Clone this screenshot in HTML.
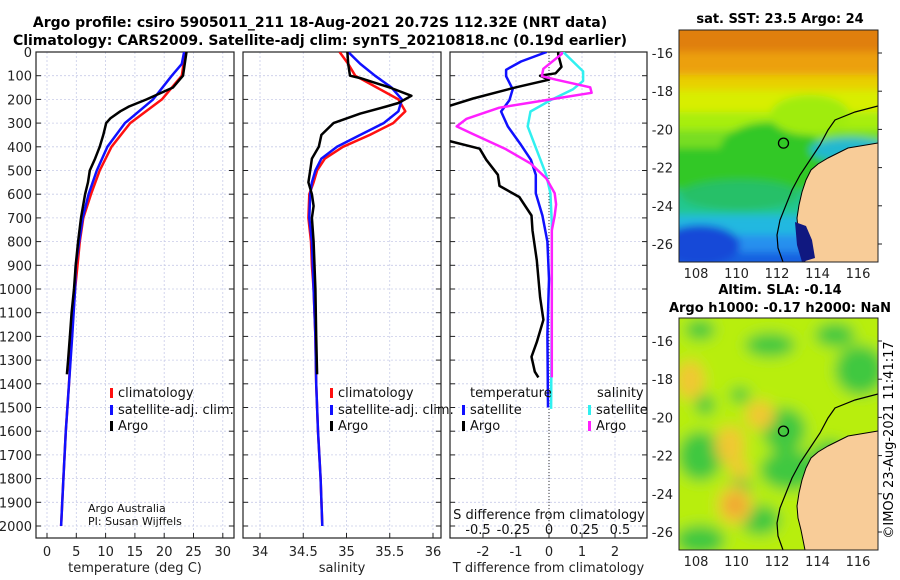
<!DOCTYPE html>
<html><head><meta charset="utf-8"><style>
html,body{margin:0;padding:0;background:#fff;}
svg{display:block;font-family:"DejaVu Sans","Liberation Sans",sans-serif;}
</style></head><body>
<svg id="fig" width="900" height="580" viewBox="0 0 900 580" xmlns="http://www.w3.org/2000/svg">
<text x="320" y="27" font-size="14" font-weight="bold" text-anchor="middle">Argo profile: csiro 5905011_211 18-Aug-2021 20.72S 112.32E (NRT data)</text>
<text x="320" y="45" font-size="14" font-weight="bold" text-anchor="middle">Climatology: CARS2009. Satellite-adj clim: synTS_20210818.nc (0.19d earlier)</text>
<g id="panels"></g>
<g id="maps"></g>
<text transform="translate(893,440) rotate(-90)" font-size="13" text-anchor="middle">©IMOS 23-Aug-2021 11:41:17</text>
</svg>
<script>
// ---------- data ----------
const depthTicks=[0,100,200,300,400,500,600,700,800,900,1000,1100,1200,1300,1400,1500,1600,1700,1800,1900,2000];
const tTicks=[0,5,10,15,20,25,30];
const sTicks=[34,34.5,35,35.5,36];
const dtTicks=[-2,-1,0,1,2];
const dsTickLabels=['-0.5','-0.25','0','0.25','0.5'];
const dsTickValues=[-0.5,-0.25,0,0.25,0.5];

const tClimDepth=[0,100,200,300,400,500,600,700,800,900,1000,1200,1400,1600,1800,2000];
const tClim=[23.6,23.0,19.6,14.2,11.0,9.0,7.5,6.2,5.6,5.2,4.8,4.2,3.75,3.2,2.8,2.4];
const tSatDepth=[0,50,100,200,300,400,500,600,700,800,900,1000,1200,1400,1600,1800,2000];
const tSat=[23.4,23.0,21.3,18.1,13.3,10.3,8.5,7.1,6.1,5.5,4.9,4.8,4.3,3.75,3.2,2.8,2.4];
const tArgoDepth=[0,100,150,200,230,250,280,300,350,400,450,500,550,600,700,800,900,1000,1100,1200,1300,1360];
const tArgo=[23.8,23.2,21.5,17.0,14.0,12.5,10.8,10.1,9.6,9.0,8.2,7.3,7.0,6.5,5.8,5.3,4.9,4.6,4.2,3.9,3.6,3.4];

const sClimDepth=[0,50,100,150,200,250,300,350,400,450,500,550,600,700,800,900,1000,1200,1400,1600,1800,2000];
const sClim=[34.92,35.02,35.10,35.35,35.60,35.68,35.54,35.27,34.96,34.75,34.66,34.62,34.57,34.56,34.59,34.60,34.62,34.64,34.65,34.67,34.70,34.72];
const sSatDepth=[0,50,100,150,200,250,300,350,400,450,500,550,600,700,800,1000,1200,1400,1600,1800,2000];
const sSat=[35.02,35.16,35.33,35.52,35.64,35.60,35.43,35.16,34.89,34.71,34.64,34.60,34.58,34.57,34.60,34.62,34.64,34.65,34.67,34.70,34.72];
const sArgoDepth=[0,50,100,110,150,185,215,230,260,300,350,400,450,500,550,600,650,700,800,1000,1200,1360];
const sArgo=[35.01,35.02,35.04,35.16,35.50,35.75,35.60,35.46,35.16,34.85,34.71,34.68,34.60,34.58,34.56,34.60,34.62,34.60,34.62,34.64,34.65,34.66];

const dtSatDepth=[0,40,75,102,157,204,251,314,392,455,518,596,690,800,957,1192,1500];
const dtSat=[-0.07,-0.85,-1.3,-1.3,-1.1,-1.2,-1.45,-1.25,-0.85,-0.55,-0.4,-0.4,-0.2,-0.05,0,-0.05,-0.03];
const dtArgoDepth=[0,10,63,90,100,117,149,196,235,300,369,408,455,518,565,612,690,753,879,1035,1130,1224,1286,1349,1373];
const dtArgo=[0.28,0.28,0.38,0.2,-0.27,0,-1.0,-2.3,-3.2,-3.2,-3.2,-2.1,-1.9,-1.55,-1.5,-0.9,-0.53,-0.5,-0.37,-0.27,-0.17,-0.37,-0.53,-0.43,-0.32];
const dsSatDepth=[0,82,122,157,204,251,314,408,518,596,722,1035,1506];
const dsSat=[0.10,0.24,0.24,0.17,0.01,-0.13,-0.15,-0.09,-0.02,0.01,0.02,0.02,0.015];
const dsArgoDepth=[0,8,71,102,117,149,172,196,235,282,314,345,408,470,533,596,643,690,753,1035,1373];
const dsArgo=[0.09,0.09,-0.04,-0.05,0.05,0.29,0.30,0.05,-0.35,-0.58,-0.65,-0.54,-0.31,-0.13,-0.02,0.04,0.05,0.04,0.02,0.02,0.02];

// ---------- helpers ----------
const NS='http://www.w3.org/2000/svg';
function mk(tag,attrs,parent){const e=document.createElementNS(NS,tag);for(const k in attrs)e.setAttribute(k,attrs[k]);parent.appendChild(e);return e;}
const Y0=52,YB=538;
const yScale=d=>Y0+d*0.237;
const tX=v=>47+5.86*v;
const sX=v=>260+86.5*(v-34);
const dtX=v=>549+33*v;
const dsX=v=>549+142*v;
const panelsG=document.getElementById('panels');

function panel(name,x0,x1,xTicks,xfn,labels,xlabel,showY){
  const g=mk('g',{},panelsG);
  
  
  const cid='clip-'+name;
  const cp=mk('clipPath',{id:cid},g);mk('rect',{x:x0,y:Y0,width:x1-x0,height:YB-Y0},cp);
  depthTicks.forEach(d=>{const l=mk('line',{x1:x0,x2:x1,y1:yScale(d),y2:yScale(d),stroke:'#c8cce8','stroke-width':0.8,'stroke-dasharray':'2,2'},g);
    
    mk('line',{x1:x0,x2:x0+5,y1:yScale(d),y2:yScale(d),stroke:'#222'},g);
    mk('line',{x1:x1-5,x2:x1,y1:yScale(d),y2:yScale(d),stroke:'#222'},g);
    if(showY){const t=mk('text',{x:x0-4,y:yScale(d)+5,'font-size':13,'text-anchor':'end',fill:'#222'},g);t.textContent=d;
      }
  });
  xTicks.forEach((v,i)=>{const x=xfn(v);
    const l=mk('line',{x1:x,x2:x,y1:Y0,y2:YB,stroke:'#c8cce8','stroke-width':0.8,'stroke-dasharray':'2,2'},g);
    
    mk('line',{x1:x,x2:x,y1:YB-5,y2:YB,stroke:'#222'},g);
    if(labels){const t=mk('text',{x:x,y:556,'font-size':13,'text-anchor':'middle',fill:'#222'},g);t.textContent=labels[i];
      }
  });
  const xl=mk('text',{x:(x0+x1)/2,y:572,'font-size':13,'text-anchor':'middle',fill:'#222'},g);xl.textContent=xlabel;
  
  const box=mk('rect',{x:x0,y:Y0,width:x1-x0,height:YB-Y0,fill:'none',stroke:'#222','stroke-width':1.2},g);
  
  return {g,cid};
}
function line(p,name,depths,vals,xfn,color,w){
  const pts=depths.map((d,i)=>xfn(vals[i]).toFixed(1)+','+yScale(d).toFixed(1)).join(' ');
  const e=mk('polyline',{points:pts,fill:'none',stroke:color,'stroke-width':w,'stroke-linejoin':'round','clip-path':'url(#'+p.cid+')'},p.g);
  
}
function legend(p,x,y,color,label){
  const m=mk('rect',{x:x,y:y-9,width:3,height:10,fill:color},p.g);
  
  const t=mk('text',{x:x+8,y:y,'font-size':13,fill:'#111'},p.g);t.textContent=label;
  
}

// Panel 1 temperature
const p1=panel('temperature-panel',36,234,tTicks,tX,tTicks.map(String),'temperature (deg C)',true);
line(p1,'temperature-climatology-line',tClimDepth,tClim,tX,'#ff1010',2.5);
line(p1,'temperature-satellite-line',tSatDepth,tSat,tX,'#1010ff',2.5);
line(p1,'temperature-argo-line',tArgoDepth,tArgo,tX,'#000',2.5);
legend(p1,110,397,'#ff1010','climatology');
legend(p1,110,414,'#1010ff','satellite-adj. clim.');
legend(p1,110,430,'#000','Argo');
[['Argo Australia',512],['PI: Susan Wijffels',525]].forEach(a=>{const t=mk('text',{x:88,y:a[1],'font-size':11,fill:'#111'},p1.g);t.textContent=a[0];
  });

// Panel 2 salinity
const p2=panel('salinity-panel',243,441,sTicks,sX,sTicks.map(String),'salinity',false);
line(p2,'salinity-climatology-line',sClimDepth,sClim,sX,'#ff1010',2.5);
line(p2,'salinity-satellite-line',sSatDepth,sSat,sX,'#1010ff',2.5);
line(p2,'salinity-argo-line',sArgoDepth,sArgo,sX,'#000',2.5);
legend(p2,330,397,'#ff1010','climatology');
legend(p2,330,414,'#1010ff','satellite-adj. clim.');
legend(p2,330,430,'#000','Argo');

// Panel 3 differences
const p3=panel('difference-panel',450,647,dtTicks,dtX,dtTicks.map(String),'T difference from climatology',false);
const zl=mk('line',{x1:dtX(0),x2:dtX(0),y1:Y0,y2:YB,stroke:'#333','stroke-width':1,'stroke-dasharray':'1,2'},p3.g);

line(p3,'t-diff-satellite-line',dtSatDepth,dtSat,dtX,'#1010ff',2.5);
line(p3,'t-diff-argo-line',dtArgoDepth,dtArgo,dtX,'#000',2.5);
line(p3,'s-diff-satellite-line',dsSatDepth,dsSat,dsX,'#30f0f0',2.5);
line(p3,'s-diff-argo-line',dsArgoDepth,dsArgo,dsX,'#ff20ff',2.5);
[['temperature',470,397],['salinity',597,397]].forEach(a=>{const t=mk('text',{x:a[1],y:a[2],'font-size':13,fill:'#111'},p3.g);t.textContent=a[0];
  });
legend(p3,462,414,'#1010ff','satellite');
legend(p3,462,430,'#000','Argo');
legend(p3,588,414,'#30f0f0','satellite');
legend(p3,588,430,'#ff20ff','Argo');
const st=mk('text',{x:549,y:519,'font-size':13,'text-anchor':'middle',fill:'#111'},p3.g);st.textContent='S difference from climatology';

dsTickValues.forEach((v,i)=>{const t=mk('text',{x:dsX(v),y:534,'font-size':13,'text-anchor':'middle',fill:'#111'},p3.g);t.textContent=dsTickLabels[i];
  });

// ---------- maps ----------
const mapsG=document.getElementById('maps');
const lonTicks=[108,110,112,114,116];
const latTicks=[-16,-18,-20,-22,-24,-26];
const lonX=l=>696+(l-108)*20.25;
function map(name,y0,title1,title2,kind){
  const g=mk('g',{},mapsG);
  
  
  const x0=679,x1=878,y1=y0+232;
  const latY=l=>y0+23+(-16-l)*19.1;
  const cid='clip-'+name;
  const defs=mk('defs',{},g);
  const cp=mk('clipPath',{id:cid},defs);mk('rect',{x:x0,y:y0,width:x1-x0,height:y1-y0},cp);
  const flt=mk('filter',{id:'blur-'+name,x:'-20%',y:'-20%',width:'140%',height:'140%'},defs);mk('feGaussianBlur',{stdDeviation:kind==='sst'?4:7},flt);
  const inner=mk('g',{'clip-path':'url(#'+cid+')'},g);
  const bg=mk('g',{filter:'url(#blur-'+name+')'},inner);
  if(kind==='sst'){
    const bands=[[y0-20,'#e07f08'],[y0+22,'#eca010'],[y0+45,'#e8d000'],[y0+60,'#d8ee00'],[y0+82,'#a8ee10'],[y0+100,'#78de20'],[y0+118,'#30c828'],[y0+160,'#20c890'],[y0+185,'#20b8e0'],[y0+205,'#2890ee'],[y0+222,'#1860e0']];
    bands.forEach((b,i)=>{const h=(i<bands.length-1?bands[i+1][0]:y1+20)-b[0];mk('rect',{x:x0-20,y:b[0],width:240,height:h,fill:b[1]},bg);});
    mk('ellipse',{cx:770,cy:150,rx:50,ry:28,fill:'#30c828'},bg);
    mk('ellipse',{cx:740,cy:195,rx:60,ry:15,fill:'#28c068'},bg);
    mk('ellipse',{cx:810,cy:115,rx:40,ry:20,fill:'#a0ec10'},bg);
    mk('ellipse',{cx:850,cy:150,rx:40,ry:12,fill:'#20b8d0'},bg);
    mk('ellipse',{cx:700,cy:245,rx:40,ry:20,fill:'#1448d8'},bg);
  } else {
    mk('rect',{x:x0-20,y:y0-20,width:240,height:272,fill:'#b8ee10'},bg);
    [[700,330,15,10],[770,345,25,12],[740,395,10,8],[705,405,10,10],[784,430,22,22],[700,456,22,25],[740,490,12,12],[790,470,30,20],[830,460,20,20],[700,540,25,15],[860,370,25,25],[835,335,20,12],[760,520,20,15]].forEach(c=>mk('ellipse',{cx:c[0],cy:c[1],rx:c[2],ry:c[3],fill:'#40c840'},bg));
    [[690,380,15,20],[730,445,15,20],[760,415,15,15],[735,505,18,20],[740,470,10,10]].forEach(c=>mk('ellipse',{cx:c[0],cy:c[1],rx:c[2],ry:c[3],fill:'#f0c830'},bg));
    mk('ellipse',{cx:735,cy:505,rx:10,ry:10,fill:'#f0a030'},bg);
  }
  const dy=y0-30;
  const coast=[[878,143],[860,146],[848,148],[838,153],[828,158],[818,164],[811,170],[806,180],[802,192],[799,205],[797,218],[798,230],[801,242],[805,262]];
  const landPts=coast.map(p=>p[0]+','+(p[1]+dy)).join(' ')+' 880,'+(262+dy)+' 880,'+(143+dy);
  const land=mk('polygon',{points:landPts,fill:'#f8cc98',stroke:'#000','stroke-width':1},inner);
  
  if(kind==='sst'){const sb=mk('path',{d:`M795 ${222+dy} L806 ${226+dy} L812 ${240+dy} L815 ${258+dy} L802 ${262+dy} L797 ${245+dy} Z`,fill:'#101880'},inner);
    }
  const shelf=[[878,106],[855,112],[835,120],[828,130],[820,145],[810,160],[800,175],[792,190],[786,205],[780,220],[777,235],[778,248],[783,262]];
  const sh=mk('polyline',{points:shelf.map(p=>p[0]+','+(p[1]+dy)).join(' '),fill:'none',stroke:'#000','stroke-width':1.2},inner);
  
  const mk1=mk('circle',{cx:lonX(112.32),cy:latY(-20.72),r:5,fill:'none',stroke:'#000','stroke-width':1.3},g);
  
  mk('rect',{x:x0,y:y0,width:x1-x0,height:y1-y0,fill:'none',stroke:'#222','stroke-width':1},g);
  latTicks.forEach(l=>{const y=latY(l);const t=mk('text',{x:673,y:y+5,'font-size':13,'text-anchor':'end',fill:'#222'},g);t.textContent=l;
    
    mk('line',{x1:x1,x2:x1+4,y1:y,y2:y,stroke:'#222'},g);});
  lonTicks.forEach(l=>{const t=mk('text',{x:lonX(l),y:y1+16,'font-size':13,'text-anchor':'middle',fill:'#222'},g);t.textContent=l;
    });
  const t1=mk('text',{x:780,y:title2?y0-24:y0-7,'font-size':13,'font-weight':'bold','text-anchor':'middle'},g);t1.textContent=title1;
  
  if(title2){const t2=mk('text',{x:780,y:y0-6,'font-size':13,'font-weight':'bold','text-anchor':'middle'},g);t2.textContent=title2;
    }
}
map('sst-map',30,'sat. SST: 23.5 Argo: 24',null,'sst');
map('sla-map',318,'Altim. SLA: -0.14','Argo h1000: -0.17 h2000: NaN','sla');
</script>
</body></html>
